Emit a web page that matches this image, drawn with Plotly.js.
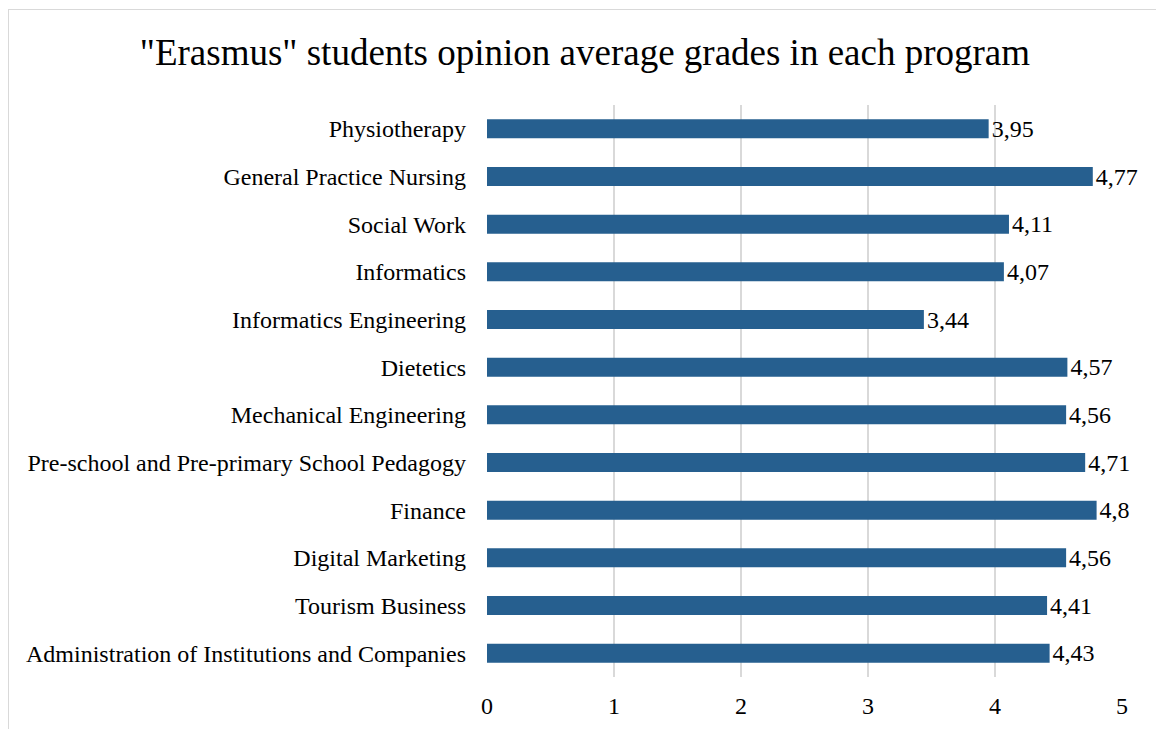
<!DOCTYPE html>
<html>
<head>
<meta charset="utf-8">
<script src="https://cdn.plot.ly/plotly-3.0.1.min.js"></script>
<style>
  html, body { margin: 0; padding: 0; background: #fff; }
  #wrap { position: relative; width: 1156px; height: 729px; overflow: hidden; }
  #chart { position: absolute; left: 0; top: 0; width: 1156px; height: 729px; }
  #frame { position: absolute; left: 8px; top: 9px; width: 1200px; height: 800px;
           border-left: 1.5px solid #d9d9d9; border-top: 1.5px solid #d9d9d9; pointer-events: none; }
</style>
</head>
<body>
<div id="wrap">
  <div id="chart"></div>
  <div id="frame"></div>
</div>
<script>
const programs = [
  "Physiotherapy",
  "General Practice Nursing",
  "Social Work",
  "Informatics",
  "Informatics Engineering",
  "Dietetics",
  "Mechanical Engineering",
  "Pre-school and Pre-primary School Pedagogy",
  "Finance",
  "Digital Marketing",
  "Tourism Business",
  "Administration of Institutions and Companies"
];
const grades = [3.95, 4.77, 4.11, 4.07, 3.44, 4.57, 4.56, 4.71, 4.8, 4.56, 4.41, 4.43];
const xTicks = [0, 1, 2, 3, 4, 5];
const titleText = '"Erasmus" students opinion average grades in each program';

const serif = "Liberation Serif, Times New Roman, serif";

Plotly.newPlot('chart', [{
  type: 'bar',
  orientation: 'h',
  y: programs,
  x: grades,
  width: 0.4,
  marker: { color: '#265f8f' },
  text: grades,
  texttemplate: '%{x}',
  textposition: 'outside',
  constraintext: 'none',
  cliponaxis: false,
  textfont: { family: serif, size: 24, color: '#000' },
  hoverinfo: 'none'
}], {
  width: 1156,
  height: 729,
  separators: ',.',
  margin: { l: 487, r: 34, t: 105, b: 52 },
  paper_bgcolor: '#fff',
  plot_bgcolor: '#fff',
  showlegend: false,
  title: {
    text: titleText,
    font: { family: serif, size: 37, color: '#000' },
    x: 0.506, xanchor: 'center', xref: 'container',
    y: 0.928, yanchor: 'middle', yref: 'container'
  },
  xaxis: {
    range: [0, 5],
    tickvals: xTicks,
    ticktext: xTicks.map(String),
    showgrid: true,
    gridcolor: '#d9d9d9',
    gridwidth: 1.5,
    zeroline: false,
    showline: false,
    ticks: '',
    ticklabelstandoff: 12,
    tickfont: { family: serif, size: 24, color: '#000' },
    fixedrange: true
  },
  yaxis: {
    type: 'category',
    autorange: 'reversed',
    showgrid: false,
    zeroline: false,
    showline: false,
    ticks: '',
    ticklabelstandoff: 20,
    tickfont: { family: serif, size: 24, color: '#000' },
    fixedrange: true
  }
}, { staticPlot: true, displayModeBar: false });
</script>
</body>
</html>
